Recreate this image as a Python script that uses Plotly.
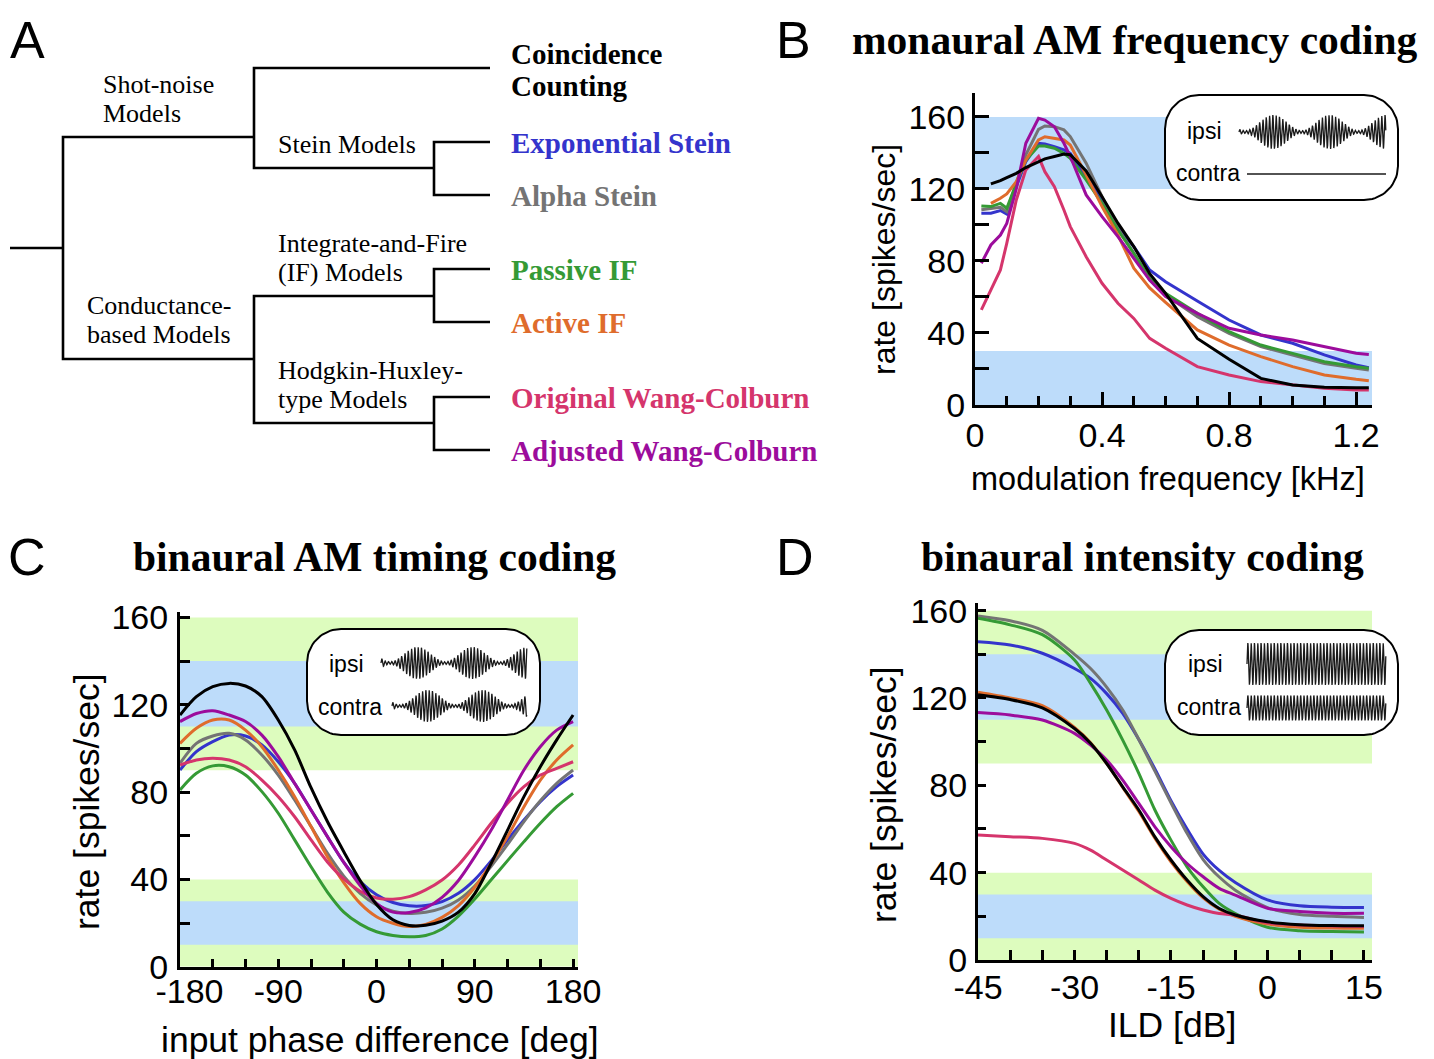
import numpy as np
import plotly.graph_objects as go

W, H = 1434, 1059

# ---------------- data ----------------
MODELS = ['Exponential Stein', 'Alpha Stein', 'Passive IF', 'Active IF',
          'Original Wang-Colburn', 'Adjusted Wang-Colburn', 'Coincidence Counting']
COLORS = ['#3434cc', '#747474', '#359a35', '#df6c2c', '#d5356c', '#9c0c9c', '#000000']

# Panel B: monaural AM frequency coding
freq_khz = [0.02, 0.05, 0.08, 0.10, 0.13, 0.16, 0.20, 0.22, 0.25, 0.28, 0.30, 0.35,
            0.40, 0.45, 0.50, 0.55, 0.60, 0.70, 0.80, 0.90, 1.00, 1.10, 1.20, 1.24]
b_exp = [106.5, 106.5, 108.0, 106.0, 121.3, 135.2, 145.4, 145.0, 143.5, 141.7, 139.8, 126.9,
         113.9, 99.0, 88.0, 75.0, 68.5, 57.8, 47.2, 38.9, 34.3, 27.8, 22.2, 20.7]
b_alpha = [108.5, 109.3, 109.8, 107.4, 123.0, 139.0, 153.1, 155.0, 154.6, 152.8, 149.1, 134.3,
           115.7, 98.1, 84.3, 69.4, 61.1, 49.1, 39.8, 32.4, 27.8, 23.1, 20.4, 19.4]
b_passive = [110.6, 110.2, 112.0, 109.3, 123.0, 136.0, 143.9, 143.9, 142.6, 139.8, 137.0, 125.0,
             112.0, 97.2, 84.3, 70.4, 62.0, 50.9, 40.7, 33.3, 28.7, 24.0, 21.3, 20.4]
b_active = [None, 112.0, 114.8, 117.2, 124.0, 136.0, 147.2, 149.0, 148.1, 147.2, 144.4, 127.8,
            110.2, 94.4, 76.0, 65.0, 57.0, 41.7, 33.3, 26.9, 21.3, 16.7, 14.3, 13.5]
b_orig = [52.8, 63.9, 75.0, 89.8, 113.9, 130.6, 138.0, 129.6, 121.3, 108.3, 99.1, 82.4,
          67.6, 56.5, 48.1, 37.0, 31.5, 21.3, 16.7, 13.0, 11.1, 9.3, 8.3, 8.3]
b_adj = [78.7, 88.9, 94.4, 100.9, 120.0, 145.4, 159.3, 158.3, 154.6, 145.4, 138.0, 116.7,
         104.6, 93.5, 81.5, 69.4, 60.2, 50.9, 42.6, 38.9, 36.1, 32.4, 28.7, 28.1]
b_coinc = [None, 122.8, 124.6, 126.3, 128.7, 131.9, 135.2, 136.7, 138.0, 139.4, 139.0, 130.0,
           115.7, 101.0, 88.0, 73.0, 62.0, 37.0, 25.4, 14.8, 11.1, 9.8, 9.6, 9.6]

# Panel C: binaural AM timing coding
phase_deg = [-180, -165, -150, -135, -120, -105, -90, -75, -60, -45, -30, -15, 0,
             15, 30, 45, 60, 75, 90, 105, 120, 135, 150, 165, 180]
c_exp = [90.1, 98.5, 103.1, 106.1, 105.7, 101.6, 93.9, 84.0, 71.8, 59.6, 47.8, 39.0, 33.0,
         29.4, 27.9, 28.0, 29.8, 33.6, 39.9, 48.5, 58.1, 67.2, 75.6, 82.5, 87.8]
c_alpha = [93.2, 102.3, 105.7, 106.9, 103.9, 97.0, 87.8, 76.4, 64.2, 52.0, 41.5, 33.6, 28.3,
           25.4, 24.4, 24.9, 26.8, 30.6, 37.0, 46.0, 56.0, 66.5, 76.0, 84.0, 90.1]
c_passive = [81.0, 88.6, 92.0, 91.6, 87.8, 80.2, 70.3, 58.1, 45.8, 34.2, 25.0, 19.5, 16.0,
             14.3, 13.7, 14.3, 17.3, 23.2, 31.0, 39.8, 48.6, 57.3, 65.7, 73.3, 79.4]
c_active = [102.3, 109.2, 113.0, 113.0, 108.4, 100.8, 90.1, 77.9, 64.2, 50.4, 38.5, 29.0, 22.9,
            19.9, 18.4, 19.4, 22.6, 28.0, 36.4, 47.4, 59.6, 73.3, 85.5, 94.7, 101.6]
c_orig = [92.4, 94.7, 95.5, 94.7, 91.6, 85.5, 77.9, 68.7, 58.1, 48.0, 40.2, 34.6, 31.5,
          30.9, 32.1, 35.2, 39.7, 46.6, 55.8, 65.7, 74.9, 82.5, 87.8, 90.9, 93.9]
c_adj = [112.3, 116.0, 117.3, 115.3, 112.3, 106.1, 96.2, 84.0, 71.8, 59.6, 47.8, 37.2, 29.0,
         25.0, 24.8, 27.0, 31.8, 39.5, 50.4, 62.6, 76.4, 90.1, 100.8, 108.4, 112.3]
c_coinc = [115.3, 123.7, 128.3, 129.8, 128.6, 123.7, 113.0, 99.3, 82.0, 66.5, 52.7, 39.5, 28.5,
           21.5, 18.9, 19.0, 20.9, 25.0, 33.5, 47.4, 62.6, 77.9, 91.6, 103.9, 115.3]

# Panel D: binaural intensity coding
ild_db = [-45, -40, -35, -30, -27.5, -25, -22.5, -20, -17.5, -15, -12.5, -10, -7.5, -5, 0, 5, 10, 15]
d_exp = [145.8, 144.3, 140.5, 133.5, 129.0, 122.0, 113.0, 101.0, 87.5, 73.0, 60.0, 48.5, 41.0, 35.5,
         27.5, 24.8, 24.2, 24.1]
d_alpha = [157.6, 155.4, 151.0, 140.0, 133.5, 125.0, 114.5, 101.0, 86.5, 72.0, 58.0, 46.0, 38.0, 32.0,
           24.0, 20.8, 20.0, 19.5]
d_passive = [156.5, 153.5, 149.0, 137.4, 126.7, 114.5, 100.7, 85.5, 68.7, 54.9, 42.7, 33.5, 25.9, 21.3,
             15.0, 13.4, 13.0, 12.8]
d_active = [122.6, 120.0, 116.5, 106.5, 99.5, 90.0, 79.0, 68.0, 55.8, 45.0, 36.0, 28.5, 23.3, 20.0,
            16.5, 15.0, 14.6, 14.5]
d_orig = [57.3, 56.5, 55.7, 53.4, 50.3, 45.8, 41.2, 36.6, 32.0, 28.2, 25.2, 22.9, 21.3, 20.6,
          17.0, 16.0, 15.6, 15.3]
d_adj = [113.3, 112.2, 109.9, 103.8, 98.4, 91.6, 82.4, 71.7, 61.0, 51.9, 44.2, 38.1, 32.8, 29.7,
         23.7, 22.2, 21.4, 21.4]
d_coinc = [121.5, 119.3, 115.5, 106.0, 99.3, 90.0, 79.3, 68.7, 56.4, 45.8, 36.6, 29.0, 23.6, 20.6,
           17.5, 16.2, 15.8, 15.7]

B_SERIES = [b_exp, b_alpha, b_passive, b_active, b_orig, b_adj, b_coinc]
C_SERIES = [c_exp, c_alpha, c_passive, c_active, c_orig, c_adj, c_coinc]
D_SERIES = [d_exp, d_alpha, d_passive, d_active, d_orig, d_adj, d_coinc]

# reference bands (rate ranges)
B_BANDS = [(120, 160, 'blue'), (0, 30, 'blue')]
CD_BANDS = [(90, 160, 'green'), (110, 140, 'blue'), (0, 40, 'green'), (10, 30, 'blue')]
BAND_COLORS = {'blue': '#bddcfa', 'green': '#ddfcbe'}

y_ticks = [0, 40, 80, 120, 160]
b_xticks = [0, 0.4, 0.8, 1.2]
b_xtext = ['0', '0.4', '0.8', '1.2']
c_xticks = [-180, -90, 0, 90, 180]
c_xtext = ['\u00a0\u00a0-180', '-90', '0', '90', '180']
d_xticks = [-45, -30, -15, 0, 15]
d_xtext = ['-45', '-30', '-15', '0', '15']

# tree (dendrogram) of model classes: node, parent, x, y (diagram units = pixels)
TREE = [
    ('root', None, 63, 248),
    ('shot', 'root', 254, 137),
    ('cond', 'root', 254, 359),
    ('coinc', 'shot', 490, 68),
    ('stein', 'shot', 434, 168),
    ('exp', 'stein', 490, 142),
    ('alpha', 'stein', 490, 195),
    ('if', 'cond', 434, 296),
    ('passive', 'if', 490, 269),
    ('active', 'if', 490, 322),
    ('hh', 'cond', 434, 423),
    ('orig', 'hh', 490, 397),
    ('adj', 'hh', 490, 450),
]
ROOT_STUB_X = 10

# ---------------- figure ----------------
fig = go.Figure()


def px_x(p):
    return p / W


def px_y(p):
    return 1 - p / H


panels = [
    ('x', 'y', freq_khz, B_SERIES, 'linear'),
    ('x2', 'y2', phase_deg, C_SERIES, 'spline'),
    ('x3', 'y3', ild_db, D_SERIES, 'spline'),
]
for xa, ya, xs, series, shape in panels:
    for name, col, ys in zip(MODELS, COLORS, series):
        fig.add_trace(go.Scatter(x=xs, y=ys, mode='lines', name=name, xaxis=xa, yaxis=ya,
                                 line=dict(color=col, width=3, shape=shape, smoothing=0.8),
                                 connectgaps=False, showlegend=False, hoverinfo='skip'))

# bands
shapes = []
for (lo, hi, c) in B_BANDS:
    shapes.append(dict(type='rect', xref='x', yref='y', x0=0, x1=1.25, y0=lo, y1=hi,
                       fillcolor=BAND_COLORS[c], line=dict(width=0), layer='below'))
for xa, ya, xr in (('x2', 'y2', (-180, 184.5)), ('x3', 'y3', (-45, 16.25))):
    for (lo, hi, c) in CD_BANDS:
        shapes.append(dict(type='rect', xref=xa, yref=ya, x0=xr[0], x1=xr[1], y0=lo, y1=hi,
                           fillcolor=BAND_COLORS[c], line=dict(width=0), layer='below'))

# tree lines on the overlay (pixel) axis
pos = {n: (x, y) for n, p, x, y in TREE}
tx, ty = [], []
rx, ry = pos['root']
tx += [ROOT_STUB_X, rx, None]
ty += [ry, ry, None]
for n, p, x, y in TREE:
    if p is None:
        continue
    px0, py0 = pos[p]
    tx += [px0, px0, x, None]
    ty += [py0, y, y, None]
fig.add_trace(go.Scatter(x=tx, y=ty, mode='lines', xaxis='x4', yaxis='y4',
                         line=dict(color='black', width=2.6), showlegend=False, hoverinfo='skip'))


# inset boxes (rounded rectangles)
def rounded_box(x0, y0, x1, y1, r):
    t = np.linspace(0, np.pi / 2, 20)
    xs, ys = [], []
    for cx, cy, a0 in ((x0 + r, y0 + r, np.pi), (x1 - r, y0 + r, 1.5 * np.pi),
                       (x1 - r, y1 - r, 0.0), (x0 + r, y1 - r, 0.5 * np.pi)):
        xs += list(cx + r * np.cos(a0 + t))
        ys += list(cy + r * np.sin(a0 + t))
    xs.append(xs[0])
    ys.append(ys[0])
    return xs, ys


INSETS = [(1165, 95, 1398, 200), (307, 629, 540, 735), (1165, 630, 1398, 735)]
for (x0, y0, x1, y1) in INSETS:
    bx, by = rounded_box(x0, y0, x1, y1, 34)
    fig.add_trace(go.Scatter(x=bx, y=by, mode='lines', fill='toself', fillcolor='white',
                             xaxis='x4', yaxis='y4', line=dict(color='black', width=2),
                             showlegend=False, hoverinfo='skip'))


# stimulus icons (schematic waveforms)
def waveform(x0, x1, yc, amp, carrier_px, mod_px=None, mod_min_at=None, depth=0.92):
    xs = np.arange(x0, x1, 0.2)
    env = np.ones_like(xs)
    if mod_px is not None:
        env = (1 - depth) + depth * (1 - np.cos(2 * np.pi * (xs - mod_min_at) / mod_px)) / 2
    ys = yc - amp * env * np.sin(2 * np.pi * (xs - x0) / carrier_px)
    return xs, ys


ICONS = [
    waveform(1239, 1386, 132, 17, 3.3, 56.5, 1245),     # B ipsi
    waveform(381, 527, 663, 16, 3.3, 55, 390),          # C ipsi
    waveform(392, 527, 706, 16, 3.3, 55, 400),          # C contra
    waveform(1247, 1386, 664, 21, 3.3),                 # D ipsi
    waveform(1247, 1386, 708, 12.5, 3.3),               # D contra
    (np.array([1247, 1386]), np.array([174, 174])),    # B contra (silent)
]
for xs, ys in ICONS:
    fig.add_trace(go.Scatter(x=xs, y=ys, mode='lines', xaxis='x4', yaxis='y4',
                             line=dict(color='#1a1a1a', width=1.3), showlegend=False,
                             hoverinfo='skip'))

SANS = 'Liberation Sans'
SERIF = 'Liberation Serif'
annotations = []


def ann(text, x, y, size, family=SANS, color='black', xanchor='center', yanchor='middle', angle=0):
    annotations.append(dict(text=text, x=x, y=y, xref='x4', yref='y4', showarrow=False,
                            font=dict(family=family, size=size, color=color),
                            xanchor=xanchor, yanchor=yanchor, textangle=angle))


# panel letters
for letter, x, y in (('A', 8, 40), ('B', 774, 40), ('C', 6, 557), ('D', 774, 557)):
    ann(letter, x, y, 52, xanchor='left')
# titles
ann('<b>monaural AM frequency coding</b>', 1135, 40, 41.5, family=SERIF)
ann('<b>binaural AM timing coding</b>', 374, 557, 41.5, family=SERIF)
ann('<b>binaural intensity coding</b>', 1142, 557, 41.5, family=SERIF)
# axis titles
ann('rate [spikes/sec]', 884, 260, 32, angle=-90)
ann('modulation frequency [kHz]', 1168, 479, 32.5)
ann('rate [spikes/sec]', 87, 802, 35.5, angle=-90)
ann('input phase difference [deg]', 380, 1040, 35.5)
ann('rate [spikes/sec]', 884, 795, 35.5, angle=-90)
ann('ILD [dB]', 1172, 1025, 35.5)
# inset labels
for txt, x, y in (('ipsi', 1204, 131), ('contra', 1208, 173), ('ipsi', 346, 664),
                  ('contra', 350, 707), ('ipsi', 1205, 664), ('contra', 1209, 707)):
    ann(txt, x, y, 23)
# tree labels
TREE_TEXT = [('Shot-noise', 101, 84), ('Models', 101, 113), ('Stein Models', 276, 144),
             ('Integrate-and-Fire', 276, 243), ('(IF) Models', 276, 272),
             ('Conductance-', 85, 305), ('based Models', 85, 334),
             ('Hodgkin-Huxley-', 276, 370), ('type Models', 276, 399)]
for txt, x, y in TREE_TEXT:
    ann(txt, x, y, 26, family=SERIF, xanchor='left')
LEAF_TEXT = [('Coincidence', 54, 6), ('Counting', 86, 6), ('Exponential Stein', 143, 0),
             ('Alpha Stein', 196, 1), ('Passive IF', 270, 2), ('Active IF', 323, 3),
             ('Original Wang-Colburn', 398, 4), ('Adjusted Wang-Colburn', 451, 5)]
for txt, y, ci in LEAF_TEXT:
    ann('<b>' + txt + '</b>', 509, y, 29, family=SERIF, color=COLORS[ci], xanchor='left')

tickfont = dict(family=SANS, size=34, color='black')
base = dict(showline=True, linecolor='black', linewidth=3, ticks='inside', tickcolor='black',
            tickwidth=3, showgrid=False, zeroline=False, tickfont=tickfont, fixedrange=True,
            tickmode='array', automargin=False)

layout = dict(
    width=W, height=H, autosize=False, margin=dict(l=0, r=0, t=0, b=0, pad=0),
    paper_bgcolor='white', plot_bgcolor='rgba(0,0,0,0)', showlegend=False,
    shapes=shapes, annotations=annotations,
    xaxis=dict(base, domain=[px_x(975), px_x(1372)], range=[0, 1.25], anchor='y',
               tickvals=b_xticks, ticktext=b_xtext, ticklen=13, ticklabelstandoff=-2,
               minor=dict(ticks='inside', tickmode='linear', tick0=0, dtick=0.1, ticklen=9,
                          tickwidth=3, tickcolor='black')),
    yaxis=dict(base, domain=[px_y(405), px_y(93)], range=[0, 173.3], anchor='x',
               tickvals=y_ticks, ticklen=14, ticklabelstandoff=0,
               minor=dict(ticks='inside', tickmode='linear', tick0=0, dtick=20, ticklen=14,
                          tickwidth=3, tickcolor='black')),
    xaxis2=dict(base, domain=[px_x(180), px_x(578)], range=[-180, 184.5], anchor='y2',
                tickvals=c_xticks, ticktext=c_xtext, ticklen=8, ticklabelstandoff=-8,
                minor=dict(ticks='inside', tickmode='linear', tick0=-180, dtick=30, ticklen=8,
                           tickwidth=3, tickcolor='black')),
    yaxis2=dict(base, domain=[px_y(966.7), px_y(612)], range=[0, 162.5], anchor='x2',
                tickvals=y_ticks, ticklen=10, ticklabelstandoff=2,
                minor=dict(ticks='inside', tickmode='linear', tick0=0, dtick=20, ticklen=10,
                           tickwidth=3, tickcolor='black')),
    xaxis3=dict(base, domain=[px_x(978), px_x(1372)], range=[-45, 16.25], anchor='y3',
                tickvals=d_xticks, ticktext=d_xtext, ticklen=10, ticklabelstandoff=-5,
                minor=dict(ticks='inside', tickmode='linear', tick0=-45, dtick=5, ticklen=10,
                           tickwidth=3, tickcolor='black')),
    yaxis3=dict(base, domain=[px_y(960), px_y(603)], range=[0, 163.5], anchor='x3',
                tickvals=y_ticks, ticklen=8, ticklabelstandoff=1,
                minor=dict(ticks='inside', tickmode='linear', tick0=0, dtick=20, ticklen=8,
                           tickwidth=3, tickcolor='black')),
    xaxis4=dict(domain=[0, 1], range=[0, W], visible=False, fixedrange=True, anchor='y4',
                automargin=False),
    yaxis4=dict(domain=[0, 1], range=[H, 0], visible=False, fixedrange=True, anchor='x4',
                automargin=False),
)
fig.update_layout(**layout)
fig.write_html('out.html', config={'displayModeBar': False},
               post_script="document.body.style.margin='0px';document.body.style.overflow='hidden';")
